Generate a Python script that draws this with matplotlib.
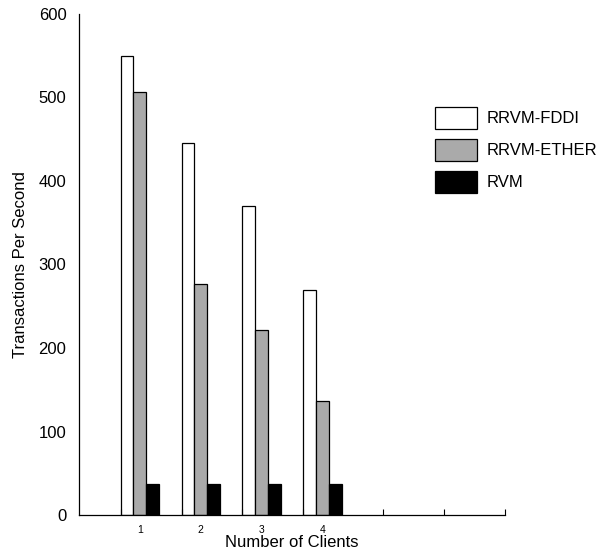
import matplotlib
matplotlib.use('Agg')
import matplotlib.pyplot as plt
import numpy as np

# ── data ─────────────────────────────────────────────
clients = [1, 2, 3, 4]
client_labels = ['1', '2', '3', '4']
rrvm_fddi = [550, 445, 370, 270]
rrvm_ether = [507, 277, 222, 137]
rvm = [37, 37, 37, 37]

plt.rcParams.update({
    'font.family': ['Liberation Sans', 'DejaVu Sans'],
    'font.size': 12,
})

fig = plt.figure(figsize=(6.03, 5.56), dpi=100)
ax = fig.add_axes([79 / 603, 41 / 556, 426 / 603, 501 / 556])

x = np.array(clients, dtype=float)
w = 0.21
ax.bar(x - w, rrvm_fddi, w, color='white', edgecolor='black', linewidth=0.9, label='RRVM-FDDI')
ax.bar(x, rrvm_ether, w, color='#aaaaaa', edgecolor='black', linewidth=0.9, label='RRVM-ETHER')
ax.bar(x + w, rvm, w, color='black', edgecolor='black', linewidth=0.9, label='RVM')

ax.set_xlim(0, 7)
ax.set_ylim(0, 600)

# tick marks at group boundaries, labels at group centres
ax.set_xticks(list(x - 1.5 * w) + [5, 6, 7])
ax.set_xticklabels([])
ax.tick_params(axis='x', which='major', direction='in', length=4, width=0.8)
ax.set_xticks(x, minor=True)
ax.set_xticklabels(client_labels, minor=True, fontsize=7.5)
ax.tick_params(axis='x', which='minor', length=0, pad=7)

ax.set_yticks(np.arange(0, 601, 100))
ax.tick_params(axis='y', length=0, pad=9, labelsize=12)

for side in ['top', 'right']:
    ax.spines[side].set_visible(False)
for side in ['left', 'bottom']:
    ax.spines[side].set_linewidth(0.9)

ax.set_xlabel('Number of Clients', fontsize=12, labelpad=0)
ax.set_ylabel('Transactions Per Second', fontsize=12, labelpad=8)

fig.legend(loc='upper left', bbox_to_anchor=(435 / 603, 1 - 107 / 556),
           frameon=False, borderpad=0, borderaxespad=0, fontsize=12,
           handlelength=2.5, handleheight=1.65, handletextpad=0.6, labelspacing=0.6)

fig.savefig('out.png', dpi=100, facecolor='white')
